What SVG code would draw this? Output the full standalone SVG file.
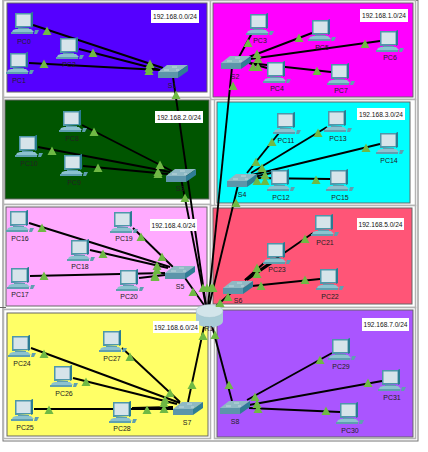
<svg xmlns="http://www.w3.org/2000/svg" width="428" height="452" viewBox="0 0 428 452">
<style>
text{font-family:"Liberation Sans",Arial,sans-serif;font-size:7px;fill:#222;text-anchor:middle}
.zone{stroke:#666;stroke-width:1}
.frame{fill:#fff;stroke:#b4b4b4;stroke-width:1.500}
.note rect{fill:#fff}
.note text{font-size:6.6px;fill:#111}
#connectors line{stroke:#000;stroke-width:1.900}
#links use{fill:#6fb944}
</style>
<defs>
<g id="pc">
<polygon points="0,1 16,1 18,0 18,15 2,16 0,16" fill="#4e97aa"/>
<polygon points="16,1 18,0 18,15 16,16" fill="#2b7c92"/>
<rect x="1.500" y="2.500" width="14" height="11.500" fill="#d6e4ea"/>
<rect x="3" y="16" width="11" height="1.500" fill="#5e9fb0"/>
<polygon points="1,17 16,17 19,20 -3,20 -2,18" fill="#8cc2cf"/>
<polygon points="-4,20 18,20 18,22 -4,22" fill="#5e9fb0"/>
<polygon points="20,18 24,18 22,22 19,22" fill="#5e9fb0"/>
</g>
<g id="sw">
<polygon points="0,8 9,1 30,1 20,8" fill="#8fb9c4"/>
<polygon points="0,8 20,8 20,14 0,14" fill="#5c95aa"/>
<polygon points="20,8 30,1 30,7 20,14" fill="#2f7d95"/>
<path d="M6,6h5M14,3h5M18,6h3" stroke="#d5e6ea" stroke-width="0.700" fill="none"/>
</g>
<polygon id="tri" points="0,-4.500 4.500,4 -4.500,4"/>
</defs>

<g id="frames">
<rect x="3" y="0.500" width="415" height="440.500" fill="#fff" stroke="#777" stroke-width="1"/>
<rect class="frame" x="3.500" y="0.500" width="207" height="97"/>
<rect class="frame" x="210.500" y="0.500" width="205" height="99"/>
<rect class="frame" x="3.500" y="97.500" width="207" height="107"/>
<rect class="frame" x="214.500" y="99.500" width="201" height="106"/>
<rect class="frame" x="3.500" y="204.500" width="207" height="105"/>
<rect class="frame" x="210.500" y="205.500" width="205" height="102"/>
<rect class="frame" x="3.500" y="309.500" width="207" height="129"/>
<rect class="frame" x="214.500" y="307.500" width="201" height="131"/>
<path d="M0,307.500H6" stroke="#666" stroke-width="1" fill="none"/>
</g>
<g id="zones">
<rect class="zone" x="7" y="3" width="200" height="89" fill="#5500ff"/>
<rect class="zone" x="213" y="3" width="200" height="94" fill="#ff00ff"/>
<rect class="zone" x="5" y="100" width="204" height="99" fill="#005500"/>
<rect class="zone" x="217" y="102" width="193" height="101" fill="#00ffff"/>
<rect class="zone" x="6" y="207" width="201" height="99" fill="#ffaaff"/>
<rect class="zone" x="213" y="208" width="199" height="96" fill="#ff5577"/>
<rect class="zone" x="7" y="313" width="201" height="123" fill="#ffff66"/>
<rect class="zone" x="217" y="310" width="196" height="127" fill="#aa55ff"/>
</g>

<g id="connectors">
<line x1="33" y1="25" x2="163" y2="68"/><line x1="79" y1="49" x2="160" y2="70"/><line x1="29" y1="63" x2="160" y2="70"/>
<line x1="173" y1="77" x2="206" y2="306"/>
<line x1="252" y1="33" x2="239" y2="57"/><line x1="312" y1="33" x2="249" y2="57"/><line x1="380" y1="41" x2="250" y2="59"/><line x1="267" y1="68" x2="249" y2="63"/><line x1="331" y1="72" x2="249" y2="63"/>
<line x1="232" y1="67" x2="208" y2="306"/>
<line x1="82" y1="125" x2="172" y2="171"/><line x1="38" y1="147" x2="170" y2="172"/><line x1="83" y1="166" x2="168" y2="174"/>
<line x1="181" y1="178" x2="206" y2="306"/>
<line x1="279" y1="133" x2="247" y2="173"/><line x1="327" y1="127" x2="251" y2="173"/><line x1="380" y1="144" x2="252" y2="175"/><line x1="271" y1="173" x2="254" y2="177"/><line x1="330" y1="179" x2="254" y2="178"/>
<line x1="238" y1="185" x2="209" y2="306"/>
<line x1="29" y1="223" x2="170" y2="267"/><line x1="90" y1="250" x2="168" y2="268"/><line x1="30" y1="276" x2="165" y2="273"/><line x1="133" y1="228" x2="173" y2="267"/><line x1="139" y1="278" x2="165" y2="275"/>
<line x1="185" y1="278" x2="204" y2="305"/>
<line x1="313" y1="233" x2="245" y2="280"/><line x1="264" y1="263" x2="245" y2="280"/><line x1="272" y1="263" x2="247" y2="280"/><line x1="320" y1="279" x2="252" y2="286"/>
<line x1="232" y1="292" x2="214" y2="308"/>
<line x1="31" y1="348" x2="180" y2="403"/><line x1="122" y1="348" x2="180" y2="402"/><line x1="73" y1="378" x2="177" y2="404"/><line x1="34" y1="409" x2="173" y2="409"/><line x1="132" y1="408" x2="173" y2="407"/>
<line x1="188" y1="402" x2="205" y2="322"/>
<line x1="332" y1="353" x2="247" y2="400"/><line x1="382" y1="381" x2="249" y2="405"/><line x1="340" y1="412" x2="249" y2="408"/>
<line x1="232" y1="401" x2="211" y2="322"/>
</g>

<g id="PC0"><use href="#pc" x="15" y="12"/><text x="24" y="43.500">PC0</text></g>
<g id="PC1"><use href="#pc" x="10" y="52"/><text x="19" y="83">PC1</text></g>
<g id="PC2"><use href="#pc" x="60" y="37"/><text x="69" y="67">PC2</text></g>
<g id="S1"><use href="#sw" x="158" y="64"/><text x="172" y="87.500">S1</text></g>
<g id="PC3"><use href="#pc" x="250" y="13"/><text x="260" y="43">PC3</text></g>
<g id="PC4"><use href="#pc" x="267" y="61"/><text x="277" y="91">PC4</text></g>
<g id="PC5"><use href="#pc" x="312" y="19"/><text x="322" y="49.500">PC5</text></g>
<g id="PC6"><use href="#pc" x="380" y="30"/><text x="390" y="60">PC6</text></g>
<g id="PC7"><use href="#pc" x="331" y="63"/><text x="341" y="93">PC7</text></g>
<g id="S2"><use href="#sw" x="221" y="55"/><text x="235" y="78.500">S2</text></g>
<g id="PC8"><use href="#pc" x="63" y="110"/><text x="72" y="141">PC8</text></g>
<g id="PC9"><use href="#pc" x="64" y="154"/><text x="74" y="185">PC9</text></g>
<g id="PC10"><use href="#pc" x="19" y="135"/><text x="29" y="166">PC10</text></g>
<g id="S3"><use href="#sw" x="166" y="168"/><text x="180" y="191">S3</text></g>
<g id="PC11"><use href="#pc" x="277" y="112"/><text x="286" y="143">PC11</text></g>
<g id="PC12"><use href="#pc" x="271" y="169"/><text x="281" y="200">PC12</text></g>
<g id="PC13"><use href="#pc" x="328" y="110"/><text x="338" y="141">PC13</text></g>
<g id="PC14"><use href="#pc" x="380" y="132"/><text x="389" y="162.500">PC14</text></g>
<g id="PC15"><use href="#pc" x="330" y="169"/><text x="340" y="199.500">PC15</text></g>
<g id="S4"><use href="#sw" x="227" y="173"/><text x="242" y="196.500">S4</text></g>
<g id="PC16"><use href="#pc" x="10" y="210"/><text x="20" y="241">PC16</text></g>
<g id="PC17"><use href="#pc" x="11" y="267"/><text x="20" y="296.500">PC17</text></g>
<g id="PC18"><use href="#pc" x="71" y="239"/><text x="80" y="269">PC18</text></g>
<g id="PC19"><use href="#pc" x="114" y="211"/><text x="124" y="241">PC19</text></g>
<g id="PC20"><use href="#pc" x="120" y="269"/><text x="129" y="299">PC20</text></g>
<g id="S5"><use href="#sw" x="165" y="265"/><text x="180" y="288.500">S5</text></g>
<g id="PC21"><use href="#pc" x="315" y="214"/><text x="325" y="245">PC21</text></g>
<g id="PC22"><use href="#pc" x="320" y="268"/><text x="330" y="298.500">PC22</text></g>
<g id="PC23"><use href="#pc" x="267" y="242"/><text x="277" y="272">PC23</text></g>
<g id="S6"><use href="#sw" x="223" y="280"/><text x="238" y="303">S6</text></g>
<g id="PC24"><use href="#pc" x="12" y="335"/><text x="22" y="365.500">PC24</text></g>
<g id="PC25"><use href="#pc" x="15" y="399"/><text x="25" y="429.500">PC25</text></g>
<g id="PC26"><use href="#pc" x="54" y="365"/><text x="64" y="395.500">PC26</text></g>
<g id="PC27"><use href="#pc" x="103" y="330"/><text x="112" y="360.500">PC27</text></g>
<g id="PC28"><use href="#pc" x="113" y="401"/><text x="122" y="431">PC28</text></g>
<g id="S7"><use href="#sw" x="173" y="401"/><text x="187" y="424.500">S7</text></g>
<g id="PC29"><use href="#pc" x="332" y="338"/><text x="341" y="368.500">PC29</text></g>
<g id="PC30"><use href="#pc" x="340" y="402"/><text x="350" y="432.500">PC30</text></g>
<g id="PC31"><use href="#pc" x="382" y="369"/><text x="392" y="399.500">PC31</text></g>
<g id="S8"><use href="#sw" x="220" y="400"/><text x="235" y="423.500">S8</text></g>

<g id="R1">
<path d="M196,311v10a13.500,6.500 0 0 0 27,0v-10z" fill="#a9ccd6"/>
<ellipse cx="209.500" cy="311" rx="13.500" ry="6.500" fill="#d3e5ea" stroke="#9fc0ca" stroke-width="0.500"/>
<text x="209" y="331">R1</text>
</g>

<g id="links">
<use href="#tri" x="47" y="31"/><use href="#tri" x="93" y="53"/><use href="#tri" x="44" y="64"/><use href="#tri" x="150" y="64"/><use href="#tri" x="149" y="68"/><use href="#tri" x="149" y="71"/><use href="#tri" x="176" y="95"/>
<use href="#tri" x="248" y="43"/><use href="#tri" x="299" y="38"/><use href="#tri" x="365" y="44"/><use href="#tri" x="317" y="71"/><use href="#tri" x="257" y="54"/><use href="#tri" x="258" y="59"/><use href="#tri" x="253" y="67"/><use href="#tri" x="258" y="67"/><use href="#tri" x="233" y="86"/>
<use href="#tri" x="94" y="132"/><use href="#tri" x="52" y="151"/><use href="#tri" x="98" y="168"/><use href="#tri" x="160" y="165"/><use href="#tri" x="158" y="172"/><use href="#tri" x="158" y="174"/><use href="#tri" x="185" y="198"/>
<use href="#tri" x="272" y="142"/><use href="#tri" x="318" y="133"/><use href="#tri" x="366" y="148"/><use href="#tri" x="316" y="180"/><use href="#tri" x="256" y="162"/><use href="#tri" x="262" y="168"/><use href="#tri" x="265" y="175"/><use href="#tri" x="257" y="181"/><use href="#tri" x="265" y="181"/><use href="#tri" x="236" y="203"/>
<use href="#tri" x="42" y="228"/><use href="#tri" x="103" y="254"/><use href="#tri" x="44" y="276"/><use href="#tri" x="141" y="237"/><use href="#tri" x="162" y="257"/><use href="#tri" x="157" y="266"/><use href="#tri" x="157" y="270"/><use href="#tri" x="155" y="276"/><use href="#tri" x="155" y="277"/><use href="#tri" x="193" y="292"/><use href="#tri" x="203" y="288"/><use href="#tri" x="211" y="288"/>
<use href="#tri" x="305" y="239"/><use href="#tri" x="257" y="268"/><use href="#tri" x="257" y="274"/><use href="#tri" x="305" y="280"/><use href="#tri" x="261" y="286"/><use href="#tri" x="228" y="297"/><use href="#tri" x="220" y="303"/><use href="#tri" x="207" y="288"/><use href="#tri" x="213" y="288"/>
<use href="#tri" x="44" y="354"/><use href="#tri" x="130" y="357"/><use href="#tri" x="86" y="382"/><use href="#tri" x="49" y="410"/><use href="#tri" x="147" y="410"/><use href="#tri" x="164" y="409"/><use href="#tri" x="170" y="393"/><use href="#tri" x="165" y="400"/><use href="#tri" x="164" y="403"/><use href="#tri" x="192" y="385"/><use href="#tri" x="203" y="336"/>
<use href="#tri" x="320" y="360"/><use href="#tri" x="368" y="383"/><use href="#tri" x="326" y="411"/><use href="#tri" x="255" y="397"/><use href="#tri" x="257" y="404"/><use href="#tri" x="258" y="409"/><use href="#tri" x="229" y="385"/><use href="#tri" x="215" y="335"/>
</g>

<g id="notes">
<g class="note"><rect x="151" y="10" width="48" height="13"/><text x="175" y="19">192.168.0.0/24</text></g>
<g class="note"><rect x="360" y="9" width="48" height="13"/><text x="384" y="18">192.168.1.0/24</text></g>
<g class="note"><rect x="155" y="111" width="48" height="12"/><text x="179" y="119.500">192.168.2.0/24</text></g>
<g class="note"><rect x="357" y="108" width="48" height="12"/><text x="381" y="116.500">192.168.3.0/24</text></g>
<g class="note"><rect x="150" y="219" width="47" height="12"/><text x="173.500" y="227.500">192.168.4.0/24</text></g>
<g class="note"><rect x="357" y="218" width="47" height="12"/><text x="380.500" y="226.500">192.168.5.0/24</text></g>
<g class="note"><rect x="153" y="321" width="46" height="12"/><text x="176" y="329.500">192.168.6.0/24</text></g>
<g class="note"><rect x="362" y="318" width="47" height="13"/><text x="385.500" y="327">192.168.7.0/24</text></g>
</g>
</svg>
